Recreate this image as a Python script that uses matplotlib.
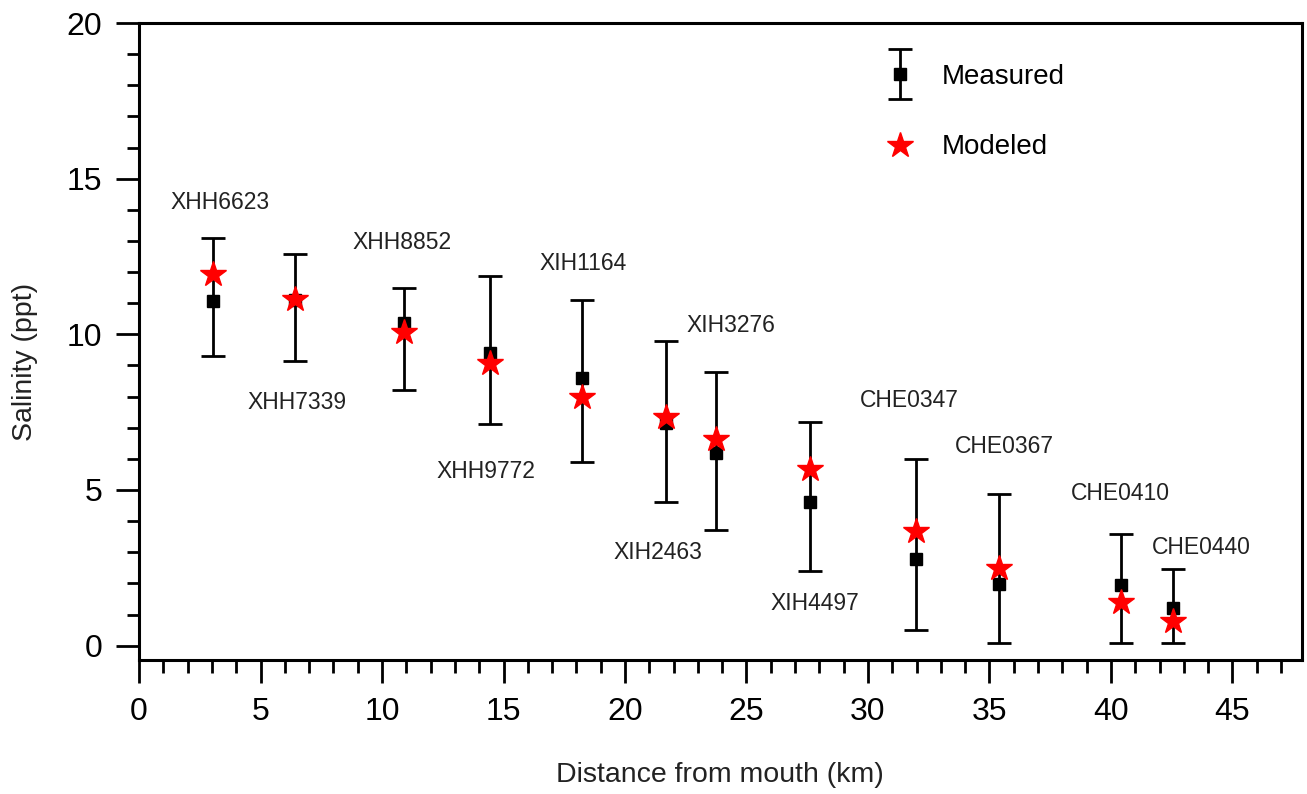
import numpy as np
import matplotlib
matplotlib.use('Agg')
import matplotlib.pyplot as plt
from matplotlib.legend_handler import HandlerErrorbar
from matplotlib.ticker import MultipleLocator

plt.rcParams['font.family'] = ['Liberation Sans', 'DejaVu Sans']

stations = ['XHH6623', 'XHH7339', 'XHH8852', 'XHH9772', 'XIH1164', 'XIH2463',
            'XIH3276', 'XIH4497', 'CHE0347', 'CHE0367', 'CHE0410', 'CHE0440']
distance_km = [3.06, 6.42, 10.92, 14.44, 18.22, 21.67, 23.75, 27.6, 31.98, 35.4, 40.4, 42.54]
measured = [11.08, 11.1, 10.38, 9.4, 8.59, 7.15, 6.18, 4.6, 2.78, 1.97, 1.95, 1.2]
measured_min = [9.31, 9.13, 8.22, 7.11, 5.89, 4.6, 3.7, 2.4, 0.5, 0.1, 0.1, 0.1]
measured_max = [13.09, 12.59, 11.5, 11.88, 11.09, 9.79, 8.79, 7.2, 6.0, 4.87, 3.59, 2.46]
modeled = [11.93, 11.14, 10.09, 9.09, 8.0, 7.36, 6.64, 5.67, 3.69, 2.49, 1.39, 0.8]

# where the station names are written (data coords)
label_x = [3.33, 6.5, 10.82, 14.28, 18.27, 21.36, 24.36, 27.82, 31.69, 35.6, 40.37, 43.74]
label_y = [14.23, 7.8, 12.94, 5.61, 12.29, 3.0, 10.27, 1.34, 7.86, 6.41, 4.9, 3.14]

x = np.array(distance_km)
y = np.array(measured)
yerr = np.array([y - np.array(measured_min), np.array(measured_max) - y])

fig = plt.figure(figsize=(13.07, 7.94), dpi=100)
ax = fig.add_axes([0.1064, 0.1688, 0.8895, 0.8022])

eb = ax.errorbar(x, y, yerr=yerr, fmt='s', color='black', ms=9, elinewidth=2,
                 capsize=8.5, capthick=2, zorder=3, label='Measured')
st, = ax.plot(distance_km, modeled, ls='none', marker='*', color='red', ms=19,
              mec='red', zorder=4, label='Modeled')

for name, lx, ly in zip(stations, label_x, label_y):
    ax.text(lx, ly, name, ha='center', va='center', fontsize=16.5, color='#222222')

ax.set_xlim(0, 47.85)
ax.set_ylim(-0.46, 20)
ax.xaxis.set_major_locator(MultipleLocator(5))
ax.xaxis.set_minor_locator(MultipleLocator(1))
ax.yaxis.set_major_locator(MultipleLocator(5))
ax.yaxis.set_minor_locator(MultipleLocator(1))
ax.tick_params(which='major', direction='out', length=16.5, width=2, labelsize=23, pad=10)
ax.tick_params(which='minor', direction='out', length=9, width=2)
for s in ax.spines.values():
    s.set_linewidth(2.2)

ax.set_xlabel('Distance from mouth (km)', fontsize=20.5, color='#222222')
ax.set_ylabel('Salinity (ppt)', fontsize=20.5, color='#222222')
ax.xaxis.set_label_coords(0.5, -0.16)
ax.yaxis.set_label_coords(-0.087, 0.468)

ax.legend([eb, st], ['Measured', 'Modeled'], loc='upper left',
          bbox_to_anchor=(0.615, 0.975), frameon=False, fontsize=20,
          labelspacing=1.6, handlelength=1.5, handletextpad=0.75,
          handler_map={type(eb): HandlerErrorbar(xerr_size=0.5, yerr_size=0.9)})

plt.savefig('out.png', dpi=100)
